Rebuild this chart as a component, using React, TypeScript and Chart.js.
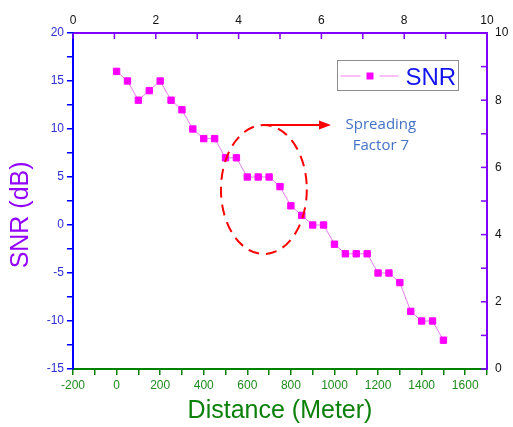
import React, { useEffect, useRef } from 'react';
import { Chart, registerables } from 'chart.js';

Chart.register(...registerables);

// ---- data ----
const distances = [0, 50, 100, 150, 200, 250, 300, 350, 400, 450, 500, 550, 600, 650, 700, 750, 800, 850, 900, 950, 1000, 1050, 1100, 1150, 1200, 1250, 1300, 1350, 1400, 1450, 1500];
const snrValues = [16, 15, 13, 14, 15, 13, 12, 10, 9, 9, 7, 7, 5, 5, 5, 4, 2, 1, 0, 0, -2, -3, -3, -3, -5, -5, -6, -9, -10, -10, -12];
const seriesName = 'SNR';
const xTitle = 'Distance (Meter)';
const yTitle = 'SNR (dB)';
const noteLines = ['Spreading', 'Factor 7'];

// axis ranges
const xRange = [-200, 1700];
const yRange = [-15, 20];
const topRange = [0, 10];
const rightRange = [0, 10];

// annotation (data units)
const ellipseCenter = [676, 3.7];
const ellipseRadius = [197, 6.72];
const arrowEndX = 984;
const noteCenterX = 1213;
const noteYs = [10.45, 8.3];

const FONT = "'Liberation Sans', Arial, sans-serif";

const decorPlugin = {
  id: 'decor',
  afterDatasetsDraw(chart: any) {
    const { ctx, scales, chartArea: area } = chart;
    const x = scales.x, y = scales.y, x2 = scales.x2, y2 = scales.y2;
    ctx.save();
    // inward ticks on top and right axes
    ctx.strokeStyle = '#7f00ff';
    ctx.lineWidth = 1.5;
    x2.ticks.forEach((t: any) => {
      const px = x2.getPixelForValue(t.value);
      ctx.beginPath();
      ctx.moveTo(px, area.top);
      ctx.lineTo(px, area.top + 6);
      ctx.stroke();
    });
    y2.ticks.forEach((t: any) => {
      const py = y2.getPixelForValue(t.value);
      ctx.beginPath();
      ctx.moveTo(area.right - 6, py);
      ctx.lineTo(area.right, py);
      ctx.stroke();
    });

    // dashed ellipse
    const cx = x.getPixelForValue(ellipseCenter[0]);
    const cy = y.getPixelForValue(ellipseCenter[1]);
    const rx = Math.abs(x.getPixelForValue(ellipseCenter[0] + ellipseRadius[0]) - cx);
    const ry = Math.abs(y.getPixelForValue(ellipseCenter[1] + ellipseRadius[1]) - cy);
    ctx.strokeStyle = '#ff0000';
    ctx.lineWidth = 2;
    ctx.setLineDash([11, 7]);
    ctx.beginPath();
    ctx.ellipse(cx, cy, rx, ry, 0, 0, Math.PI * 2);
    ctx.stroke();
    ctx.setLineDash([]);

    // arrow
    const ay = cy - ry;
    const ax = x.getPixelForValue(arrowEndX);
    ctx.beginPath();
    ctx.moveTo(cx, ay);
    ctx.lineTo(ax - 8, ay);
    ctx.stroke();
    ctx.fillStyle = '#ff0000';
    ctx.beginPath();
    ctx.moveTo(ax, ay);
    ctx.lineTo(ax - 12, ay - 4.5);
    ctx.lineTo(ax - 12, ay + 4.5);
    ctx.closePath();
    ctx.fill();

    // note text
    ctx.fillStyle = '#4472c4';
    ctx.font = "15px 'Open Sans', sans-serif";
    ctx.textAlign = 'center';
    ctx.textBaseline = 'middle';
    const nx = x.getPixelForValue(noteCenterX);
    noteLines.forEach((line, i) => {
      ctx.fillText(line, nx, y.getPixelForValue(noteYs[i]));
    });

    // legend
    const bw = 121, bh = 30;
    const bx = Math.round(area.right - 29) - bw + 0.5;
    const by = Math.round(area.top + 27) + 0.5;
    ctx.fillStyle = '#ffffff';
    ctx.fillRect(bx, by, bw, bh);
    ctx.strokeStyle = '#8c8c8c';
    ctx.lineWidth = 1;
    ctx.strokeRect(bx, by, bw, bh);
    const ly = by + 15.5;
    ctx.strokeStyle = '#ee82ee';
    ctx.beginPath();
    ctx.moveTo(bx + 3, ly);
    ctx.lineTo(bx + 23, ly);
    ctx.moveTo(bx + 42, ly);
    ctx.lineTo(bx + 61, ly);
    ctx.stroke();
    ctx.fillStyle = '#ff00ff';
    ctx.fillRect(bx + 29, ly - 3.5, 7, 7);
    ctx.fillStyle = '#1414f0';
    ctx.font = `24px ${FONT}`;
    ctx.textAlign = 'left';
    ctx.textBaseline = 'alphabetic';
    ctx.fillText(seriesName, bx + 68, by + 24);

    ctx.restore();
  },
};

export default function App() {
  const canvasRef = useRef<HTMLCanvasElement | null>(null);

  useEffect(() => {
    const canvas = canvasRef.current;
    if (!canvas) return;
    Chart.defaults.font.family = FONT;
    const chart = new Chart(canvas, {
      type: 'scatter',
      data: {
        datasets: [
          {
            label: seriesName,
            data: distances.map((d, i) => ({ x: d, y: snrValues[i] })),
            showLine: true,
            borderColor: '#e27de8',
            borderWidth: 1,
            pointStyle: 'rect',
            pointRadius: 4.5,
            pointHoverRadius: 4.5,
            pointBackgroundColor: '#ff00ff',
            pointBorderColor: '#ff00ff',
            pointBorderWidth: 1,
            xAxisID: 'x',
            yAxisID: 'y',
          },
        ],
      },
      options: {
        responsive: false,
        animation: false,
        layout: { padding: 0 },
        plugins: {
          legend: { display: false },
          tooltip: { enabled: false },
        },
        scales: {
          x: {
            type: 'linear',
            position: 'bottom',
            min: xRange[0],
            max: xRange[1],
            afterFit: (s: any) => { s.height = 58; },
            border: { display: true, color: '#008000', width: 2 },
            grid: { drawOnChartArea: false, drawTicks: true, tickLength: 6, color: '#008000', lineWidth: 1.5 },
            ticks: {
              stepSize: 100,
              autoSkip: false,
              maxRotation: 0,
              padding: 3,
              color: '#1f8a1f',
              font: { size: 12 },
              callback: (v: any) => (Number(v) % 200 === 0 ? String(v) : ''),
            },
            title: {
              display: true,
              text: xTitle,
              color: '#0b800b',
              font: { size: 25 },
              padding: { top: 0, bottom: 1 },
            },
          },
          x2: {
            type: 'linear',
            axis: 'x',
            position: 'top',
            min: topRange[0],
            max: topRange[1],
            afterFit: (s: any) => { s.height = 33; },
            border: { display: true, color: '#7f00ff', width: 2 },
            grid: { drawOnChartArea: false, drawTicks: false },
            ticks: {
              stepSize: 1,
              autoSkip: false,
              maxRotation: 0,
              padding: 5,
              color: '#111111',
              font: { size: 12 },
              callback: (v: any) => (Number(v) % 2 === 0 ? String(v) : ''),
            },
          },
          y: {
            type: 'linear',
            position: 'left',
            min: yRange[0],
            max: yRange[1],
            afterFit: (s: any) => { s.width = 73; },
            border: { display: true, color: '#0000ff', width: 2 },
            grid: { drawOnChartArea: false, drawTicks: true, tickLength: 6, color: '#0000ff', lineWidth: 1.5 },
            ticks: {
              stepSize: 2.5,
              autoSkip: false,
              padding: 3,
              color: '#2e2ed6',
              font: { size: 12 },
              callback: (v: any) => (Number(v) % 5 === 0 ? String(v) : ''),
            },
            title: {
              display: true,
              text: yTitle + '    ',
              color: '#9400ff',
              font: { size: 25 },
              padding: { top: 6, bottom: 0 },
            },
          },
          y2: {
            type: 'linear',
            axis: 'y',
            position: 'right',
            min: rightRange[0],
            max: rightRange[1],
            afterFit: (s: any) => { s.width = 26; },
            border: { display: true, color: '#7f00ff', width: 2 },
            grid: { drawOnChartArea: false, drawTicks: false },
            ticks: {
              stepSize: 1,
              autoSkip: false,
              padding: 8,
              color: '#111111',
              font: { size: 12 },
              callback: (v: any) => (Number(v) % 2 === 0 ? String(v) : ''),
            },
          },
        },
      },
      plugins: [decorPlugin],
    });
    return () => chart.destroy();
  }, []);

  return (
    <div style={{ position: 'absolute', left: 0, top: 0, width: 513, height: 427, background: '#ffffff' }}>
      <canvas ref={canvasRef} width={513} height={427} style={{ display: 'block' }} />
    </div>
  );
}
